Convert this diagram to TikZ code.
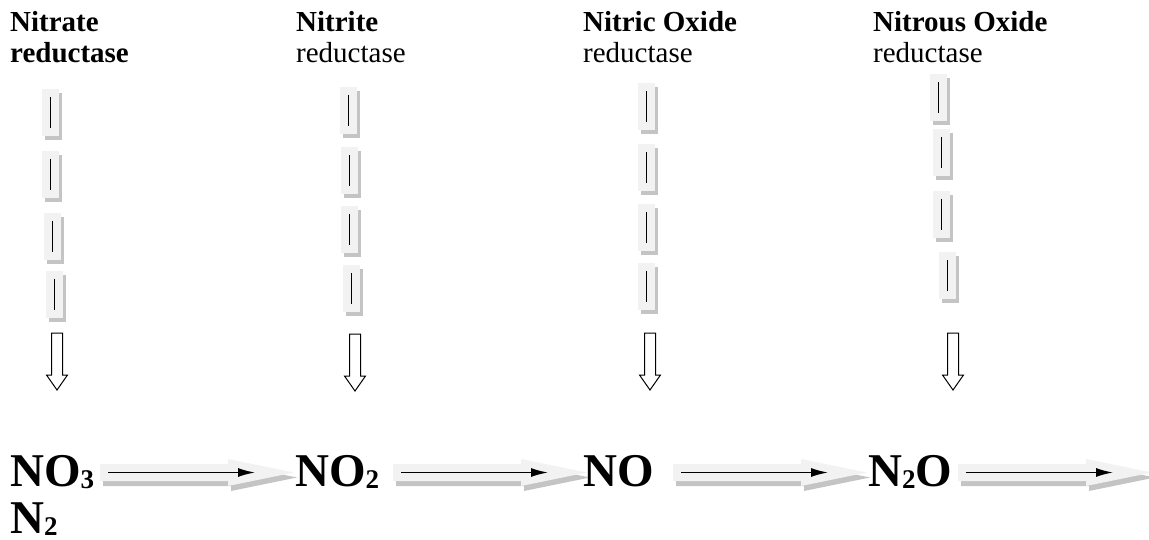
\documentclass[tikz,border=0pt]{standalone}
\usepackage{fontspec}
\setmainfont{Liberation Serif}
\usetikzlibrary{arrows.meta,calc}
\definecolor{lightfill}{HTML}{F2F2F2}
\definecolor{shadowgrey}{HTML}{C4C4C4}
\newcommand\subnum[1]{\raisebox{-2.5pt}{\fontsize{27}{27}\selectfont #1}}
\newcommand\segbox[3]{%
  \fill[shadowgrey] (#2+3,#3+4) rectangle ++(16.5,47);
  \node[segnode,anchor=north west] (#1) at (#2,#3) {};
  \draw[line width=1pt] ($(#1.north)+(0,8)$) -- ($(#1.south)+(0,-8)$);
}
\newcommand\hollowdown[3]{%
  \draw[line width=1pt,fill=white] (#2-5.5,#3) -- (#2+5.5,#3) -- (#2+5.5,#3+42) -- (#2+10.5,#3+42) -- (#2,#3+57) -- (#2-10.5,#3+42) -- (#2-5.5,#3+42) -- cycle;
  \coordinate (#1) at (#2,#3);
}
\newcommand\fatarrow[2]{%
  \begin{scope}[shift={(#1,#2)}]
    \fill[shadowgrey] (3,-3.5) -- (131,-3.5) -- (131,-8.5) -- (197,5) -- (131,18.5) -- (131,13.5) -- (3,13.5) -- cycle;
    \fill[lightfill] (0,-8.5) -- (128,-8.5) -- (128,-13.5) -- (194,0) -- (128,13.5) -- (128,8.5) -- (0,8.5) -- cycle;
  \end{scope}
}
\begin{document}
\begin{tikzpicture}[x=1pt,y=-1pt,
  segnode/.style={rectangle,fill=lightfill,draw=none,inner sep=0pt,minimum width=16.5pt,minimum height=47pt},
  lbl/.style={anchor=base west,inner sep=0pt,font=\fontsize{29}{31}\selectfont},
  lblb/.style={lbl,font=\fontsize{29}{31}\selectfont\bfseries},
  chem/.style={anchor=base west,inner sep=0pt,font=\fontsize{47}{49}\selectfont\bfseries},
  flow/.style={line width=1.5pt,-{Latex[length=17pt,width=9pt]}}]
\useasboundingbox (0,0) rectangle (1149,540);

% top labels
\node[lblb] (l1a) at (10,32) {Nitrate};
\node[lblb] (l1b) at (10,63) {reductase};
\node[lblb] (l2a) at (296,32) {Nitrite};
\node[lbl]  (l2b) at (296,63) {reductase};
\node[lblb] (l3a) at (583,32) {Nitric Oxide};
\node[lbl]  (l3b) at (583,63) {reductase};
\node[lblb] (l4a) at (873,32) {Nitrous Oxide};
\node[lbl]  (l4b) at (873,63) {reductase};

% dashed segment columns
\segbox{s11}{42}{89}
\segbox{s12}{42}{151}
\segbox{s13}{44}{213}
\segbox{s14}{46}{271}

\segbox{s21}{340}{87}
\segbox{s22}{341}{147}
\segbox{s23}{341}{206}
\segbox{s24}{343}{265}

\segbox{s31}{638}{83}
\segbox{s32}{638}{144}
\segbox{s33}{638}{204}
\segbox{s34}{638}{263}

\segbox{s41}{930}{74}
\segbox{s42}{933}{129}
\segbox{s43}{933}{191}
\segbox{s44}{939}{252}

% hollow down arrows
\hollowdown{d1}{57}{333}
\hollowdown{d2}{355}{334}
\hollowdown{d3}{650}{333}
\hollowdown{d4}{953}{333}

% fat arrows
\fatarrow{100}{472.5}
\fatarrow{393}{472.5}
\fatarrow{673}{472.5}
\fatarrow{958}{472.5}

% chemical species
\node[chem] (no3) at (10,486) {NO\subnum{3}};
\node[chem] (no2) at (295,486) {NO\subnum{2}};
\node[chem] (no)  at (583,486) {NO};
\node[chem] (n2o) at (868,486) {N\subnum{2}O};
\node[chem] (n2)  at (10,533) {N\subnum{2}};

% flow arrows
\coordinate (f1s) at (108,472.5); \coordinate (f1e) at (255,472.5);
\coordinate (f2s) at (401,472.5); \coordinate (f2e) at (548,472.5);
\coordinate (f3s) at (681,472.5); \coordinate (f3e) at (828,472.5);
\coordinate (f4s) at (966,472.5); \coordinate (f4e) at (1113,472.5);
\draw[flow] (f1s) -- (f1e);
\draw[flow] (f2s) -- (f2e);
\draw[flow] (f3s) -- (f3e);
\draw[flow] (f4s) -- (f4e);
\end{tikzpicture}
\end{document}
